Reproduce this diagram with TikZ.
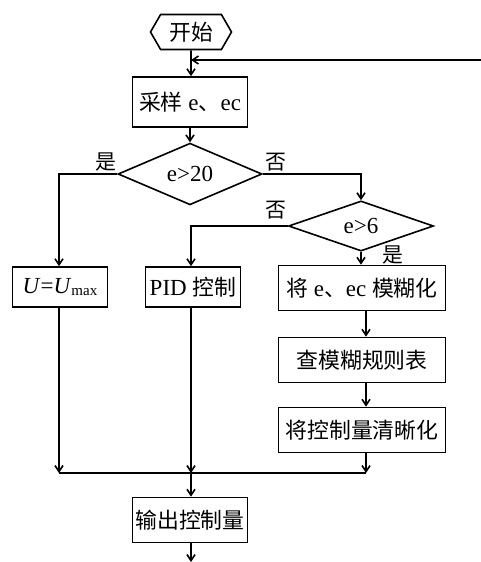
\documentclass[tikz,border=0pt]{standalone}
\usepackage{fontspec}
\setmainfont{Liberation Serif}
\newfontfamily\cjk[Scale=0.95]{Noto Sans CJK SC}
\usetikzlibrary{shapes.geometric, shapes.symbols, arrows.meta, calc}

\begin{document}
\begin{tikzpicture}[
    x=1pt, y=-1pt,
    box/.style={
      rectangle, draw=black, line width=1.6pt,
      minimum width=115pt, minimum height=45pt, inner sep=1pt,
      text centered, font=\fontsize{23}{26}\selectfont
    },
    dec/.style={
      diamond, draw=black, line width=1.6pt, inner sep=0pt,
      text centered, font=\fontsize{23}{26}\selectfont
    },
    term/.style={
      signal, signal to=east and west, signal pointer angle=120,
      draw=black, line width=1.6pt, inner sep=0pt,
      minimum width=81pt, minimum height=35pt,
      font=\cjk\fontsize{23}{26}\selectfont
    },
    lbl/.style={inner sep=0pt, font=\cjk\fontsize{22}{24}\selectfont},
    arr/.style={-{Straight Barb[length=6pt,width=8pt]}, line width=1.6pt},
    ln/.style={line width=1.6pt}
  ]
  \useasboundingbox (0,0) rectangle (481,562);

  \node[term] (start) at (191,32) {开始};
  \node[box, minimum height=50pt] (samp) at (190,102) {{\cjk 采样} e{\cjk 、}ec};
  \node[dec, minimum width=144pt, minimum height=43pt] (big) at (190,174) {e>20};
  \node[dec, minimum width=145pt, minimum height=39pt] (mid) at (361,226) {e>6};

  \node[box, minimum width=95pt, minimum height=40pt] (umax) at (60,287)
        {\textit{U}=\textit{U}{\fontsize{15}{17}\selectfont\raisebox{-0.35ex}{max}}};
  \node[box, minimum width=95pt, minimum height=40pt] (pid) at (193,287) {PID {\cjk 控制}};
  \node[box, minimum width=167pt] (fuzz) at (362,288) {{\cjk 将} e{\cjk 、}ec {\cjk 模糊化}};
  \node[box, minimum width=167pt] (rule) at (362,360) {\cjk 查模糊规则表};
  \node[box, minimum width=167pt] (defz) at (362,430) {\cjk 将控制量清晰化};
  \node[box] (out) at (190,520) {\cjk 输出控制量};

  \coordinate (back) at (481,60);
  \coordinate (merge) at (191,473);
  \coordinate (end) at (191,562);

  % main line
  \draw[arr] (start) -- (samp.north -| start);
  \draw[arr] (back) -- (back -| start);
  \draw[arr] (samp.south -| big) -- (big);

  % branches
  \draw[arr] (big.west) -| (umax.north -| 59,0);
  \draw[arr] (big.east) -| (mid.north);
  \draw[arr] (mid.west) -| (pid.north -| merge);
  \draw[arr] (mid.south) -- (fuzz.north -| mid);
  \draw[arr] (fuzz.south -| 366,0) -- (rule.north -| 366,0);
  \draw[arr] (rule.south -| 366,0) -- (defz.north -| 366,0);

  % merge
  \draw[arr] (umax.south -| 59,0) -- (merge -| 59,0);
  \draw[arr] (pid.south -| merge) -- (merge);
  \draw[arr] (defz.south -| 366,0) -- (merge -| 366,0);
  \draw[ln] (merge -| 59,0) -- (merge -| 366,0);
  \draw[arr] (merge) -- (out.north -| merge);
  \draw[arr] (out.south -| end) -- (end);

  \node[lbl] (yes1) at (106,162) {是};
  \node[lbl] (no1) at (276,162) {否};
  \node[lbl] (no2) at (276,210) {否};
  \node[lbl] (yes2) at (393,255) {是};
\end{tikzpicture}
\end{document}
